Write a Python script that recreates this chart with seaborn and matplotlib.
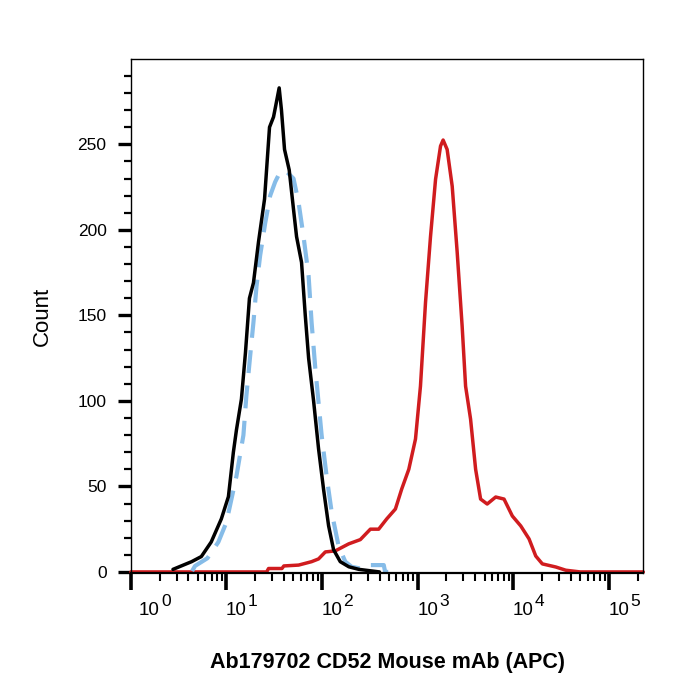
import numpy as np
import pandas as pd
import matplotlib
matplotlib.use("Agg")
import matplotlib.pyplot as plt
from matplotlib.ticker import LogLocator, NullFormatter, FixedLocator
import seaborn as sns

# Histogram outlines (x in decades, y in counts)
black_log = [0.44, 0.635, 0.737, 0.84, 0.946, 1.02, 1.072, 1.104, 1.156, 1.198,
             1.24, 1.282, 1.335, 1.398, 1.45, 1.492, 1.513, 1.551, 1.575, 1.607,
             1.656, 1.701, 1.733, 1.785, 1.824, 1.859, 1.911, 1.963, 2.016, 2.068,
             2.12, 2.19, 2.28, 2.385, 2.6]
black_count = [1.5, 6, 9, 17.5, 31, 44, 70, 83, 101, 128,
               160, 169, 193, 218, 260, 266, 272, 283, 270, 247,
               235, 212, 196, 181, 150, 125, 100, 72, 48, 27,
               13, 6, 3, 1.5, 0]

blue_log = [0.64, 0.671, 0.8, 0.915, 0.999, 1.104, 1.177, 1.208, 1.247, 1.282,
            1.314, 1.352, 1.405, 1.457, 1.509, 1.562, 1.628, 1.701, 1.754, 1.806,
            1.859, 1.89, 1.929, 1.963, 1.995, 2.047, 2.1, 2.173, 2.243, 2.309,
            2.40, 2.414, 2.45, 2.645, 2.66, 2.8]
blue_count = [0.5, 3.5, 8, 17.5, 29, 56, 80, 103, 126, 146,
              167, 185, 204, 220, 228, 234, 234, 230, 216, 196,
              173, 146, 119, 99, 80, 56, 35, 15, 6, 3,
              2, 2, 4, 4, 0, 0]

red_log = [0, 1.42, 1.44, 1.58, 1.60, 1.754, 1.89, 1.963, 2.034, 2.138,
           2.278, 2.4, 2.505, 2.592, 2.676, 2.767, 2.833, 2.907, 2.977, 3.029,
           3.082, 3.134, 3.187, 3.239, 3.266, 3.308, 3.361, 3.413, 3.465, 3.501,
           3.553, 3.606, 3.658, 3.727, 3.816, 3.903, 3.99, 4.078, 4.165, 4.235,
           4.304, 4.444, 4.549, 4.7, 5.36]
red_count = [0, 0, 2, 2, 3.5, 4, 6, 7.6, 11.7, 12.3,
             16.4, 18.9, 25, 25, 31, 36.8, 48.5, 60, 77.7, 108.6,
             157.7, 196, 229.6, 249, 252.5, 247, 225.5, 187, 143.7, 108.6,
             89.4, 60, 42.6, 39.7, 43.8, 42.6, 32.7, 26.9, 19.3, 9.3,
             4.7, 2.9, 1, 0, 0]

y_ticks = [0, 50, 100, 150, 200, 250]
x_decades = [0, 1, 2, 3, 4, 5]
x_label = "Ab179702 CD52 Mouse mAb (APC)"
y_label = "Count"

sns.set_style("ticks")
plt.rcParams['font.family'] = ['Liberation Sans', 'DejaVu Sans']
for k in ['axes.edgecolor', 'xtick.color', 'ytick.color', 'text.color', 'axes.labelcolor']:
    plt.rcParams[k] = 'black'

fig = plt.figure(figsize=(7, 7), dpi=100)
ax = fig.add_axes([0.187, 0.181, 0.732, 0.735])

red = pd.DataFrame({"x": 10 ** np.array(red_log), "y": red_count})
blue = pd.DataFrame({"x": 10 ** np.array(blue_log), "y": blue_count})
black = pd.DataFrame({"x": 10 ** np.array(black_log), "y": black_count})

sns.lineplot(data=red, x="x", y="y", ax=ax, color="#d01c1f", linewidth=2.5, clip_on=False)
sns.lineplot(data=blue, x="x", y="y", ax=ax, color="#86bce8", linewidth=3.0,
             clip_on=False).lines[-1].set_dashes((5.5, 3))
sns.lineplot(data=black, x="x", y="y", ax=ax, color="black", linewidth=2.5, clip_on=False)

ax.set_xscale("log")
ax.set_xlim(1, 10 ** 5.36)
ax.set_ylim(-0.8, 300)

# y ticks
ax.yaxis.set_major_locator(FixedLocator(y_ticks))
ax.yaxis.set_minor_locator(FixedLocator([v for v in range(10, 300, 10) if v % 50]))
ax.tick_params(axis="y", which="major", length=9.5, width=2.4, labelsize=12.5, pad=8)
ax.tick_params(axis="y", which="minor", length=5, width=1.6)

# x ticks: decade labels drawn as "10" plus a large superscript, set right of the tick
ax.xaxis.set_major_locator(FixedLocator([10 ** d for d in x_decades]))
ax.set_xticklabels([])
ax.xaxis.set_minor_locator(LogLocator(base=10, subs=np.arange(2, 10), numticks=30))
ax.xaxis.set_minor_formatter(NullFormatter())
ax.tick_params(axis="x", which="major", length=12, width=2.6)
ax.tick_params(axis="x", which="minor", length=5.5, width=1.5)
trans = ax.get_xaxis_transform()
for d in x_decades:
    dx = 13.3 if d == 0 else 7.2
    ax.annotate("10", xy=(10 ** d, 0), xycoords=trans, xytext=(dx, -30.2),
                textcoords="offset points", ha="center", va="baseline", fontsize=13.5)
    ax.annotate(str(d), xy=(10 ** d, 0), xycoords=trans, xytext=(dx + 8.3, -23.5),
                textcoords="offset points", ha="left", va="baseline", fontsize=12.5)

for s in ["top", "right", "left"]:
    ax.spines[s].set_linewidth(1.0)
ax.spines["bottom"].set_linewidth(1.6)

ax.set_xlabel(x_label, fontsize=15.5, fontweight="bold", labelpad=41)
ax.set_ylabel(y_label, fontsize=16, labelpad=18)

fig.savefig("out.png", dpi=100, facecolor="white")
